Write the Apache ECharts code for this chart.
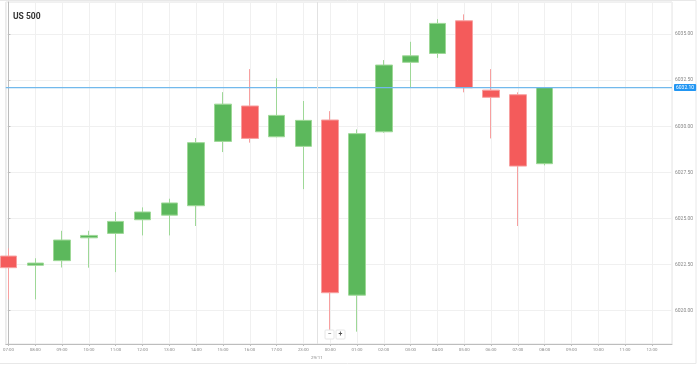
<!DOCTYPE html>
<html>
<head>
<meta charset="utf-8">
<script src="https://cdn.jsdelivr.net/npm/echarts@6/dist/echarts.min.js"></script>
<style>
html,body{margin:0;padding:0;background:#fff;}
#main{width:699px;height:365px;}
</style>
</head>
<body>
<div id="main"></div>
<script>
// Tick labels of the time axis (one per hour slot)
const timeLabels = ['07:00','08:00','09:00','10:00','11:00','12:00','13:00','14:00','15:00','16:00','17:00','23:00','00:00','01:00','02:00','03:00','04:00','05:00','06:00','07:00','08:00','09:00','10:00','11:00','12:00'];
// Candle values (hour slots 0..20)
const openVals  = [6022.96,6022.46,6022.71,6023.95,6024.19,6024.93,6025.18,6025.69,6029.18,6031.10,6029.43,6028.91,6030.34,6020.84,6029.70,6033.47,6033.95,6035.72,6031.96,6031.71,6027.97];
const closeVals = [6022.33,6022.58,6023.83,6024.08,6024.84,6025.35,6025.84,6029.11,6031.20,6029.34,6030.59,6030.32,6020.97,6029.60,6033.32,6033.82,6035.58,6032.09,6031.57,6027.84,6032.10];
const lowVals   = [6020.61,6020.61,6022.34,6022.33,6022.09,6024.08,6024.08,6024.59,6028.60,6029.11,6029.40,6026.59,6018.95,6018.86,6029.65,6032.09,6033.71,6031.84,6029.34,6024.59,6027.88];
const highVals  = [6023.38,6022.84,6024.33,6024.33,6025.35,6025.60,6026.07,6029.36,6031.85,6033.10,6032.60,6031.37,6030.82,6029.83,6033.59,6034.58,6035.81,6036.07,6033.10,6031.84,6032.10];
const dayBreak = 11.5;      // between 23:00 and 00:00
const dayLabel = '29/11';
const title = 'US 500';

const xMin = -0.1, xMax = 24.75;
const candles = openVals.map((o, i) => [i, o, closeVals[i], lowVals[i], highVals[i]]);
const lastClose = closeVals[closeVals.length - 1];

const chart = echarts.init(document.getElementById('main'), null, {renderer: 'canvas'});
chart.setOption({
  animation: false,
  backgroundColor: '#fff',
  title: {
    text: title, left: 8, top: 7,
    textStyle: {fontFamily: 'Roboto', fontWeight: 'bold', fontSize: 8.5, color: '#333'}
  },
  grid: {
    left: 0, right: 27, top: 2, bottom: 21,
    show: true, borderColor: '#e4e4e4', borderWidth: 1
  },
  xAxis: {
    type: 'value',
    min: xMin, max: xMax,
    minInterval: 1, maxInterval: 1,
    axisLine: {show: true, lineStyle: {color: '#bdbdbd', width: 1}},
    axisTick: {show: true, length: 2, lineStyle: {color: '#bdbdbd'}},
    axisLabel: {
      fontSize: 4.4, color: '#888', margin: 4, fontFamily: 'Roboto',
      showMinLabel: false, showMaxLabel: false,
      formatter: v => {
        const r = Math.round(v);
        return Math.abs(v - r) < 1e-6 && timeLabels[r] ? timeLabels[r] : '';
      }
    },
    splitLine: {show: true, lineStyle: {color: '#f0f0f0', width: 1}}
  },
  yAxis: {
    type: 'value',
    position: 'right',
    min: 6018.19, max: 6036.74,
    minInterval: 2.5, maxInterval: 2.5,
    axisLine: {show: true, lineStyle: {color: '#bdbdbd', width: 1}},
    axisTick: {show: true, length: 2, lineStyle: {color: '#bdbdbd'}},
    axisLabel: {
      fontSize: 5, color: '#888', margin: 3, fontFamily: 'Roboto',
      showMinLabel: false, showMaxLabel: false,
      formatter: v => v.toFixed(2)
    },
    splitLine: {show: true, lineStyle: {color: '#f0f0f0', width: 1}}
  },
  series: [{
    type: 'candlestick',
    data: candles,
    encode: {x: 0, y: [1, 2, 3, 4]},
    barWidth: 17,
    itemStyle: {
      color: '#5cb85c', color0: '#f45b5b',
      borderColor: '#9ed897', borderColor0: '#f7a0a0',
      borderWidth: 1
    },
    z: 3
  }, {
    // current price line
    type: 'line',
    data: [[xMin, lastClose], [xMax, lastClose]],
    showSymbol: false,
    symbol: 'none',
    silent: true,
    clip: false,
    z: 4,
    lineStyle: {color: '#72b9ec', width: 1.3, type: 'solid'},
    itemStyle: {color: '#72b9ec'},
    endLabel: {
      show: true, distance: 2,
      formatter: () => lastClose.toFixed(2),
      backgroundColor: '#2196f3', color: '#fff',
      fontSize: 5, fontFamily: 'Roboto', padding: [1, 2], borderRadius: 1
    }
  }, {
    type: 'line',
    data: [],
    color: '#e2e2e2',
    z: 1,
    markLine: {
      silent: true,
      symbol: ['none', 'none'],
      animation: false,
      lineStyle: {color: '#e2e2e2', width: 1, type: 'solid', opacity: 1},
      data: [
        {
          xAxis: dayBreak,
          label: {
            show: true, position: 'start', distance: 12,
            formatter: dayLabel, color: '#888', fontSize: 4.4, fontFamily: 'Roboto'
          }
        }
      ]
    }
  }],
  graphic: [
    {type: 'rect', shape: {x: -1, y: 0.5, width: 697, height: 363}, style: {fill: 'none', stroke: '#e8e8e8', lineWidth: 1}, silent: true, z: -1},
    {type: 'rect', shape: {x: 325, y: 330, width: 9, height: 9, r: 1}, style: {fill: '#fff', stroke: '#e6e6e6', lineWidth: 1}, z: 100},
    {type: 'text', x: 329.5, y: 334.5, style: {text: '\u2212', fontSize: 7, fill: '#555', align: 'center', verticalAlign: 'middle', fontFamily: 'Roboto'}, z: 101},
    {type: 'rect', shape: {x: 336, y: 330, width: 9, height: 9, r: 1}, style: {fill: '#fff', stroke: '#e6e6e6', lineWidth: 1}, z: 100},
    {type: 'text', x: 340.5, y: 334.5, style: {text: '+', fontSize: 7, fill: '#555', align: 'center', verticalAlign: 'middle', fontFamily: 'Roboto', fontWeight: 'bold'}, z: 101}
  ]
});
</script>
</body>
</html>
